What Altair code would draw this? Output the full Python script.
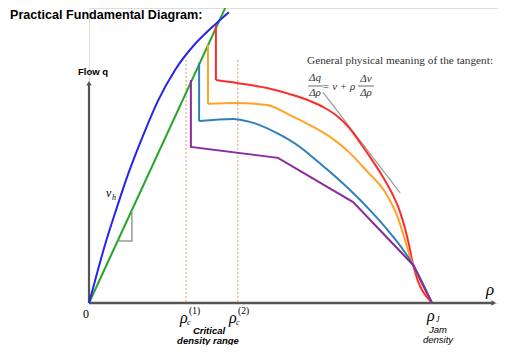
import altair as alt
import pandas as pd

# ---- data (density rho normalised to jam density = 1, flow q normalised) ----
ff_rho = [0, 0.026, 0.050, 0.076, 0.114, 0.163, 0.201, 0.251, 0.309, 0.353, 0.382, 0.408]
ff_q = [0, 0.112, 0.210, 0.305, 0.437, 0.583, 0.685, 0.790, 0.878, 0.929, 0.959, 0.986]

cap_rho = [0, 0.397]
cap_q = [0, 1.0]

red_rho = [0.370, 0.370, 0.431, 0.519, 0.586, 0.644, 0.688, 0.726, 0.761, 0.793, 0.825, 0.857, 0.886, 0.907, 0.921, 0.933, 0.945, 1.0]
red_q = [0.942, 0.756, 0.746, 0.729, 0.708, 0.685, 0.661, 0.631, 0.590, 0.539, 0.485, 0.427, 0.366, 0.308, 0.254, 0.197, 0.129, 0.0]

org_rho = [0.347, 0.347, 0.431, 0.519, 0.586, 0.644, 0.703, 0.761, 0.810, 0.863, 0.901, 0.924, 0.939, 0.945, 1.0]
org_q = [0.875, 0.675, 0.678, 0.671, 0.637, 0.603, 0.563, 0.508, 0.447, 0.376, 0.288, 0.203, 0.146, 0.129, 0.0]

stb_rho = [0.321, 0.321, 0.420, 0.469, 0.548, 0.615, 0.644, 0.703, 0.761, 0.819, 0.878, 0.945, 1.0]
stb_q = [0.814, 0.617, 0.624, 0.614, 0.576, 0.529, 0.502, 0.444, 0.383, 0.315, 0.237, 0.129, 0.0]

pur_rho = [0.297, 0.297, 0.551, 0.770, 0.945, 1.0]
pur_q = [0.756, 0.529, 0.492, 0.342, 0.129, 0.0]

tan_rho = [0.682, 0.907]
tan_q = [0.715, 0.373]

tri_rho = [0.087, 0.125, 0.125]
tri_q = [0.210, 0.210, 0.308]

crit_rho = [0.283, 0.434]
crit_top = [0.824, 0.824]

xaxis_rho = [0, 1.18]
xaxis_q = [0, 0]
yaxis_rho = [0, 0]
yaxis_q = [0, 0.745]

cong_names = ["red", "orange", "steel", "purple"]
cong_colors = ["#ff2b2b", "#ffa326", "#2d80bd", "#8b2b9b"]
cong_rho = [red_rho, org_rho, stb_rho]
cong_q = [red_q, org_q, stb_q]

XS = alt.Scale(domain=[0, 1.1924], nice=False, zero=False)
YS = alt.Scale(domain=[0, 1.0], nice=False, zero=False)
PX0, PY0 = 89, 8  # page offset of the plot area
X = alt.X("rho:Q", scale=XS, axis=None)
Y = alt.Y("q:Q", scale=YS, axis=None)


def simple_line(rr, qq, color, width, interp="linear"):
    df = pd.DataFrame({"rho": rr, "q": qq, "ord": list(range(len(rr)))})
    return alt.Chart(df).mark_line(color=color, strokeWidth=width, clip=False,
                                   interpolate=interp).encode(x=X, y=Y, order="ord:Q")


# congested branches: vertical drop (linear) + smooth decreasing part
vert_rows, curv_rows = [], []
for name, rr, qq in zip(cong_names, cong_rho, cong_q):
    for i in range(2):
        vert_rows.append({"s": name, "rho": rr[i], "q": qq[i], "ord": i})
    for i in range(1, len(rr)):
        curv_rows.append({"s": name, "rho": rr[i], "q": qq[i], "ord": i})
col = alt.Color("s:N", scale=alt.Scale(domain=cong_names, range=cong_colors), legend=None)
cong_vert = alt.Chart(pd.DataFrame(vert_rows)).mark_line(strokeWidth=2).encode(
    x=X, y=Y, color=col, order="ord:Q")
cong_curv = alt.Chart(pd.DataFrame(curv_rows)).mark_line(
    strokeWidth=2, interpolate="monotone").encode(x=X, y=Y, color=col, order="ord:Q")
purple = simple_line(pur_rho, pur_q, "#8b2b9b", 2)

dummy = pd.DataFrame({"a": [0]})


def label(txt, px, py, size, font="Liberation Sans", weight="normal", style="normal",
          align="left", color="black", baseline="middle"):
    return alt.Chart(dummy).mark_text(
        fontSize=size, font=font, fontWeight=weight, fontStyle=style,
        align=align, baseline=baseline, color=color).encode(
        x=alt.value(px - PX0), y=alt.value(py - PY0), text=alt.value(txt))


def bar(px1, px2, py, color="#444"):
    return alt.Chart(dummy).mark_rule(color=color, strokeWidth=0.8).encode(
        x=alt.value(px1 - PX0), x2=alt.value(px2 - PX0), y=alt.value(py - PY0))


axis_color = "#555555"
x_axis = simple_line(xaxis_rho, xaxis_q, axis_color, 2.5)
y_axis = simple_line(yaxis_rho, yaxis_q, axis_color, 2.2)
arrows = alt.Chart(pd.DataFrame({"rho": [xaxis_rho[1], yaxis_rho[1]],
                                 "q": [xaxis_q[1], yaxis_q[1]],
                                 "shp": ["triangle-right", "triangle-up"]})).mark_point(
    filled=True, size=28, color=axis_color, opacity=1, clip=False).encode(
    x=X, y=Y, shape=alt.Shape("shp:N", scale=None))

crit = alt.Chart(pd.DataFrame({"rho": crit_rho, "top": crit_top})).mark_rule(
    color="#d39a6a", strokeWidth=1, strokeDash=[2, 2]).encode(
    x=X, y=alt.Y("top:Q", scale=YS, axis=None), y2=alt.datum(0))

free_flow = simple_line(ff_rho, ff_q, "#2323f2", 2, interp="monotone")
capacity = simple_line(cap_rho, cap_q, "#2aa52a", 2)
tangent = simple_line(tan_rho, tan_q, "#9a9a9a", 1.2)
triangle = simple_line(tri_rho, tri_q, "#999999", 1.5)

serif = "Liberation Serif"
fc = "#333333"
texts = [
    label("Practical Fundamental Diagram:", 10, 19, 12.6, weight="bold", baseline="alphabetic"),
    label("Flow q", 78, 72, 9.5, weight="bold"),
    label("0", 83, 314, 12, font=serif),
    label("v", 106, 193, 12, font=serif, style="italic"),
    label("h", 112, 198, 8, font=serif, style="italic"),
    label("ρ", 180, 318, 16, font=serif, style="italic"),
    label("c", 187, 323, 8, font=serif, style="italic"),
    label("(1)", 189, 311, 9.5, font=serif),
    label("ρ", 229, 318, 16, font=serif, style="italic"),
    label("c", 236, 323, 8, font=serif, style="italic"),
    label("(2)", 238, 311, 9.5, font=serif),
    label("Critical", 209, 330.5, 9.5, weight="bold", style="italic", align="center"),
    label("density range", 208, 340.5, 9.5, weight="bold", style="italic", align="center"),
    label("ρ", 427, 316, 16, font=serif, style="italic"),
    label("J", 436, 320, 8, font=serif, style="italic"),
    label("Jam", 438, 330, 9.5, style="italic", align="center"),
    label("density", 438, 340, 9.5, style="italic", align="center"),
    label("ρ", 486, 290, 17, font=serif, style="italic"),
    label("General physical meaning of the tangent:", 307, 61, 11.3, font=serif, color=fc),
    label("Δq", 315, 78, 11, font=serif, style="italic", align="center", color=fc),
    label("Δρ", 315, 93, 11, font=serif, style="italic", align="center", color=fc),
    label("= v + ρ", 322, 87, 11, font=serif, style="italic", color=fc),
    label("Δv", 366, 79, 11, font=serif, style="italic", align="center", color=fc),
    label("Δρ", 366, 93, 11, font=serif, style="italic", align="center", color=fc),
    bar(308, 323, 86),
    bar(358, 374, 86),
]

chart = alt.layer(x_axis, y_axis, arrows, crit, triangle, tangent, capacity, free_flow,
                  cong_vert, cong_curv, purple, *texts).properties(
    width=409, height=295,
    padding={"left": 81, "top": 0, "right": 0, "bottom": 42},
    autosize=alt.AutoSizeParams(type="none"),
).configure_view(stroke=None).configure(background="white")

chart.save("out.html", embed_options={"renderer": "svg", "actions": False})
